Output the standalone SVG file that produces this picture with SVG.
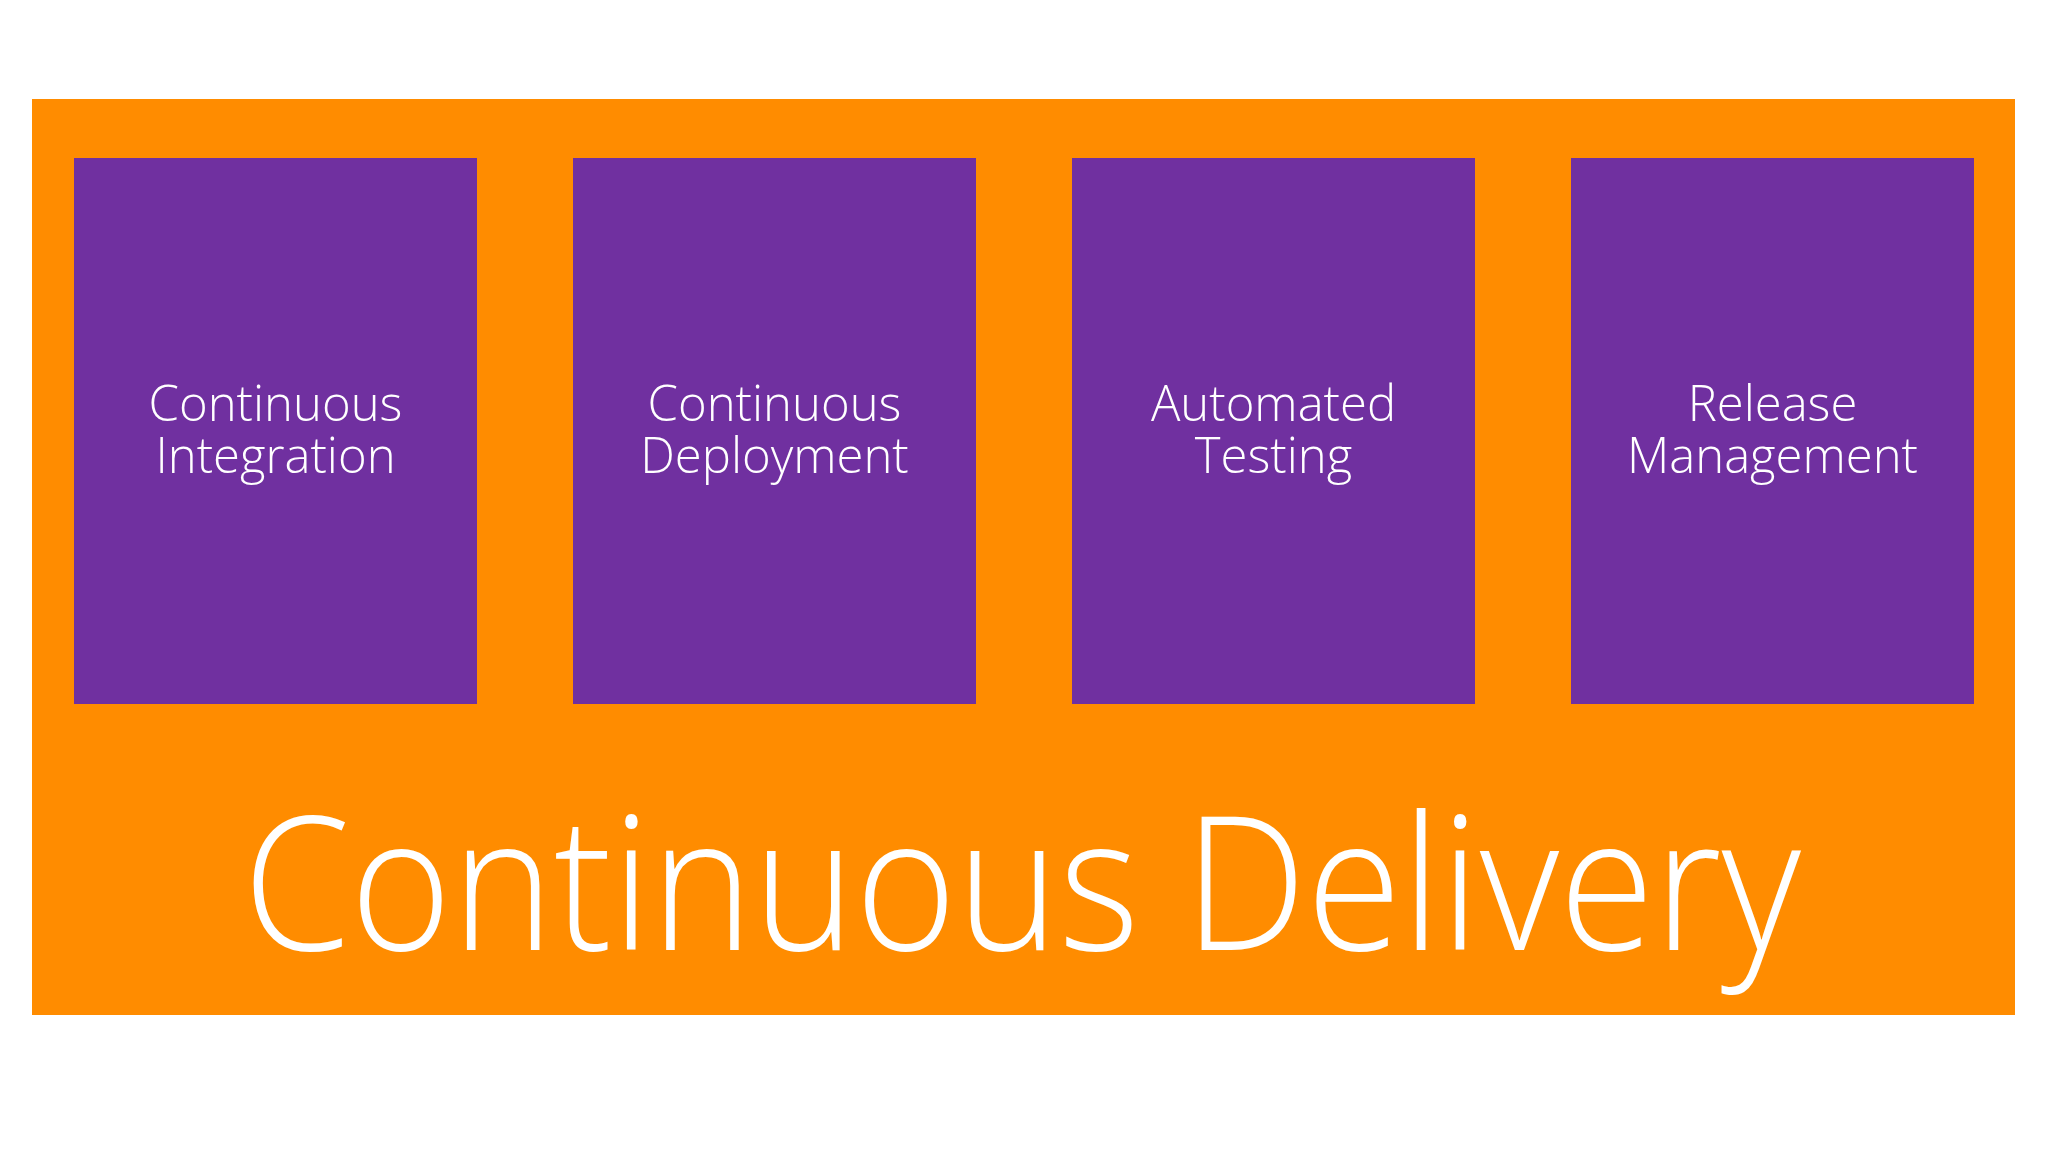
<svg xmlns="http://www.w3.org/2000/svg" width="2048" height="1152" viewBox="0 0 2048 1152">
<style>
.box{fill:#7030A0}
.lbl{font-family:"Open Sans","Liberation Sans",sans-serif;font-weight:300;font-size:49px;fill:#FFFFFF;text-anchor:middle}
.big{font-family:"Open Sans","Liberation Sans",sans-serif;font-weight:300;font-size:186px;fill:#FFFFFF;text-anchor:middle}
</style>
<rect width="2048" height="1152" fill="#FFFFFF"/>
<g id="continuous-delivery">
<rect x="32" y="99" width="1983" height="916" fill="#FF8C00"/>
<text class="big" x="1022" y="950" textLength="1558" lengthAdjust="spacingAndGlyphs">Continuous Delivery</text>
</g>
<g id="continuous-integration">
<rect class="box" x="74" y="158" width="403" height="546"/>
<text class="lbl" y="421"><tspan x="275.5">Continuous</tspan><tspan x="275.5" dy="52">Integration</tspan></text>
</g>
<g id="continuous-deployment">
<rect class="box" x="573" y="158" width="403" height="546"/>
<text class="lbl" y="421"><tspan x="774.5">Continuous</tspan><tspan x="774.5" dy="52">Deployment</tspan></text>
</g>
<g id="automated-testing">
<rect class="box" x="1072" y="158" width="403" height="546"/>
<text class="lbl" y="421"><tspan x="1273.5">Automated</tspan><tspan x="1273.5" dy="52">Testing</tspan></text>
</g>
<g id="release-management">
<rect class="box" x="1571" y="158" width="403" height="546"/>
<text class="lbl" y="421"><tspan x="1772.5">Release</tspan><tspan x="1772.5" dy="52">Management</tspan></text>
</g>
<g id="connectors"></g>
</svg>
